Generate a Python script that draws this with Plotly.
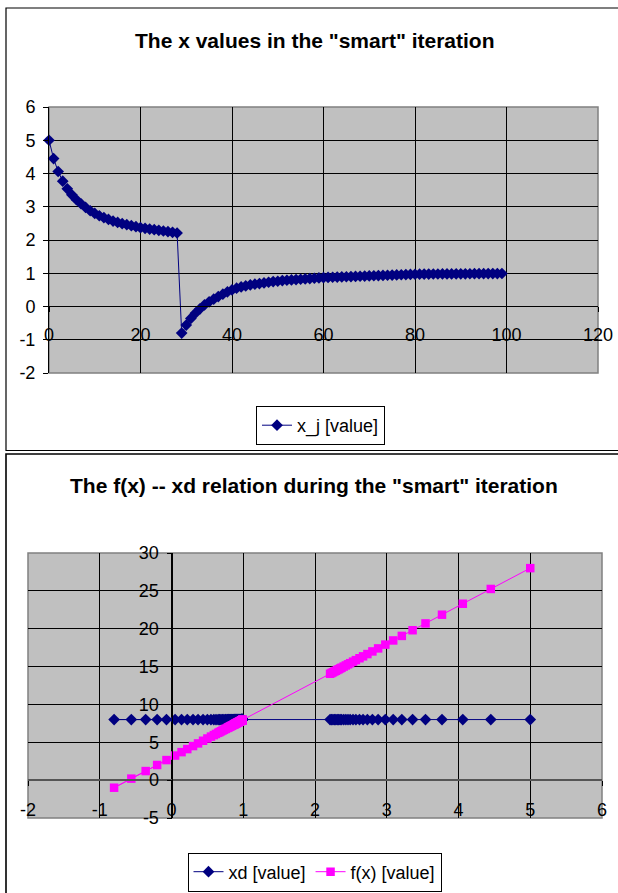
import plotly.graph_objects as go

# ---------------- data ----------------
iteration = list(range(100))

x_j = [5.00, 4.45, 4.06, 3.77, 3.54, 3.36, 3.21, 3.09, 2.98, 2.88,
       2.80, 2.73, 2.67, 2.62, 2.57, 2.53, 2.49, 2.46, 2.43, 2.40,
       2.37, 2.35, 2.33, 2.31, 2.29, 2.27, 2.25, 2.23, 2.21, -0.80,
       -0.56, -0.36, -0.20, -0.07, 0.05, 0.14, 0.22, 0.30, 0.37, 0.44,
       0.50, 0.55, 0.59, 0.62, 0.65, 0.67, 0.69, 0.71, 0.73, 0.75,
       0.76, 0.78, 0.79, 0.80, 0.81, 0.82, 0.83, 0.84, 0.85, 0.86,
       0.87, 0.875, 0.88, 0.885, 0.89, 0.895, 0.90, 0.905, 0.91, 0.915,
       0.92, 0.925, 0.93, 0.935, 0.94, 0.945, 0.95, 0.955, 0.96, 0.965,
       0.97, 0.972, 0.974, 0.976, 0.977, 0.978, 0.979, 0.980, 0.981, 0.982,
       0.983, 0.984, 0.985, 0.986, 0.987, 0.988, 0.989, 0.990, 0.991, 0.992]

xd = [8, 8, 8, 8, 8, 8, 8, 8, 8, 8,
      8, 8, 8, 8, 8, 8, 8, 8, 8, 8,
      8, 8, 8, 8, 8, 8, 8, 8, 8, 8,
      8, 8, 8, 8, 8, 8, 8, 8, 8, 8,
      8, 8, 8, 8, 8, 8, 8, 8, 8, 8,
      8, 8, 8, 8, 8, 8, 8, 8, 8, 8,
      8, 8, 8, 8, 8, 8, 8, 8, 8, 8,
      8, 8, 8, 8, 8, 8, 8, 8, 8, 8,
      8, 8, 8, 8, 8, 8, 8, 8, 8, 8,
      8, 8, 8, 8, 8, 8, 8, 8, 8, 8]

f_x = [28.00, 25.25, 23.30, 21.85, 20.70, 19.80, 19.05, 18.45, 17.90, 17.40,
       17.00, 16.65, 16.35, 16.10, 15.85, 15.65, 15.45, 15.30, 15.15, 15.00,
       14.85, 14.75, 14.65, 14.55, 14.45, 14.35, 14.25, 14.15, 14.05, -1.00,
       0.20, 1.20, 2.00, 2.65, 3.25, 3.70, 4.10, 4.50, 4.85, 5.20,
       5.50, 5.75, 5.95, 6.10, 6.25, 6.35, 6.45, 6.55, 6.65, 6.75,
       6.80, 6.90, 6.95, 7.00, 7.05, 7.10, 7.15, 7.20, 7.25, 7.30,
       7.35, 7.375, 7.40, 7.425, 7.45, 7.475, 7.50, 7.525, 7.55, 7.575,
       7.60, 7.625, 7.65, 7.675, 7.70, 7.725, 7.75, 7.775, 7.80, 7.825,
       7.85, 7.86, 7.87, 7.88, 7.885, 7.89, 7.895, 7.90, 7.905, 7.91,
       7.915, 7.92, 7.925, 7.93, 7.935, 7.94, 7.945, 7.95, 7.955, 7.96]

top_x_ticks = [0, 20, 40, 60, 80, 100, 120]
top_x_labels = ["0", "20", "40", "60", "80", "100", "120"]
top_y_ticks = [-2, -1, 0, 1, 2, 3, 4, 5, 6]
top_y_labels = ["-2", "-1", "0", "1", "2", "3", "4", "5", "6"]
bot_x_ticks = [-2, -1, 0, 1, 2, 3, 4, 5, 6]
bot_x_labels = ["-2", "-1", "0", "1", "2", "3", "4", "5", "6"]
bot_y_ticks = [-5, 0, 5, 10, 15, 20, 25, 30]
bot_y_labels = ["-5", "0", "5", "10", "15", "20", "25", "30"]

title_top = 'The x values in the "smart" iteration'
title_bottom = 'The f(x) -- xd relation during the "smart" iteration'

# ---------------- layout helpers ----------------
W, H = 618, 893


def px(x):
    return x / W


def py(y):
    return 1 - y / H


FONT = "Liberation Sans Narrow, Arial Narrow, Arial, sans-serif"
NAVY = "#000080"
MAGENTA = "#FF00FF"
GRID = "#000000"
TICKFONT = dict(family=FONT, size=18, color="black")

fig = go.Figure()

fig.add_trace(go.Scatter(
    x=iteration, y=x_j, mode="lines+markers", name="x_j [value]",
    line=dict(color=NAVY, width=1),
    marker=dict(symbol="diamond", size=9, color=NAVY),
    xaxis="x", yaxis="y", legend="legend", cliponaxis=False))

fig.add_trace(go.Scatter(
    x=x_j, y=xd, mode="lines+markers", name="xd [value]",
    line=dict(color=NAVY, width=1),
    marker=dict(symbol="diamond", size=9, color=NAVY),
    xaxis="x2", yaxis="y2", legend="legend2", cliponaxis=False))

fig.add_trace(go.Scatter(
    x=x_j, y=f_x, mode="lines+markers", name="f(x) [value]",
    line=dict(color=MAGENTA, width=1),
    marker=dict(symbol="square", size=8.5, color=MAGENTA),
    xaxis="x2", yaxis="y2", legend="legend2", cliponaxis=False))

axis_common = dict(
    showline=True,
    ticks="outside", ticklen=5, tickcolor="black", tickwidth=1,
    showgrid=True, gridcolor=GRID, gridwidth=1,
    zeroline=False, tickfont=TICKFONT, fixedrange=True,
    tickmode="array", automargin=False,
)

fig.update_layout(
    width=W, height=H,
    margin=dict(l=0, r=0, t=0, b=0, autoexpand=False),
    paper_bgcolor="white",
    plot_bgcolor="#C0C0C0",
    font=dict(family=FONT, size=18, color="black"),
    xaxis=dict(domain=[px(49), px(598)], range=[0, 120],
               tickvals=top_x_ticks, ticktext=top_x_labels,
               anchor="free", position=py(306), ticklabelstandoff=7,
               linecolor="black", linewidth=1, **axis_common),
    yaxis=dict(domain=[py(373), py(107)], range=[-2, 6],
               tickvals=top_y_ticks, ticktext=top_y_labels,
               anchor="x", ticklabelstandoff=4, linecolor="black",
               linewidth=1, **axis_common),
    xaxis2=dict(domain=[px(28), px(602)], range=[-2, 6],
                tickvals=bot_x_ticks, ticktext=bot_x_labels,
                anchor="free", position=py(780), ticklabelstandoff=8,
                linecolor="#555555", linewidth=2, **axis_common),
    yaxis2=dict(domain=[py(818), py(553)], range=[-5, 30],
                tickvals=bot_y_ticks, ticktext=bot_y_labels,
                anchor="free", position=px(171.5), ticklabelstandoff=4,
                linecolor="black", linewidth=1, **axis_common),
    legend=dict(x=px(320.5), y=py(425.5), xanchor="center", yanchor="middle",
                orientation="h", bordercolor="black", borderwidth=1,
                bgcolor="white", font=dict(family=FONT, size=18)),
    legend2=dict(x=px(314.5), y=py(872), xanchor="center", yanchor="middle",
                 orientation="h", bordercolor="black", borderwidth=1,
                 bgcolor="white", font=dict(family=FONT, size=18)),
    annotations=[
        dict(text="<b>" + title_top + "</b>", x=px(314.5), y=py(40),
             xref="paper", yref="paper", showarrow=False,
             xanchor="center", yanchor="middle",
             font=dict(family=FONT, size=21, color="black")),
        dict(text="<b>" + title_bottom + "</b>", x=px(314), y=py(485),
             xref="paper", yref="paper", showarrow=False,
             xanchor="center", yanchor="middle",
             font=dict(family=FONT, size=21, color="black")),
    ],
    shapes=[
        # plot-area outlines
        dict(type="rect", xref="paper", yref="paper",
             x0=px(49), x1=px(598), y0=py(373), y1=py(107),
             line=dict(color="#808080", width=1.5), layer="below"),
        dict(type="rect", xref="paper", yref="paper",
             x0=px(28), x1=px(602), y0=py(818), y1=py(553),
             line=dict(color="#808080", width=1.5), layer="below"),
        # chart frames
        dict(type="rect", xref="paper", yref="paper", x0=px(6), x1=1.05,
             y0=py(450.5), y1=py(8), line=dict(color="black", width=1.2),
             layer="above"),
        dict(type="rect", xref="paper", yref="paper", x0=px(6), x1=1.05,
             y0=-0.05, y1=py(454), line=dict(color="black", width=1.6),
             layer="above"),
    ],
    showlegend=True,
)

fig.write_html("out.html")
